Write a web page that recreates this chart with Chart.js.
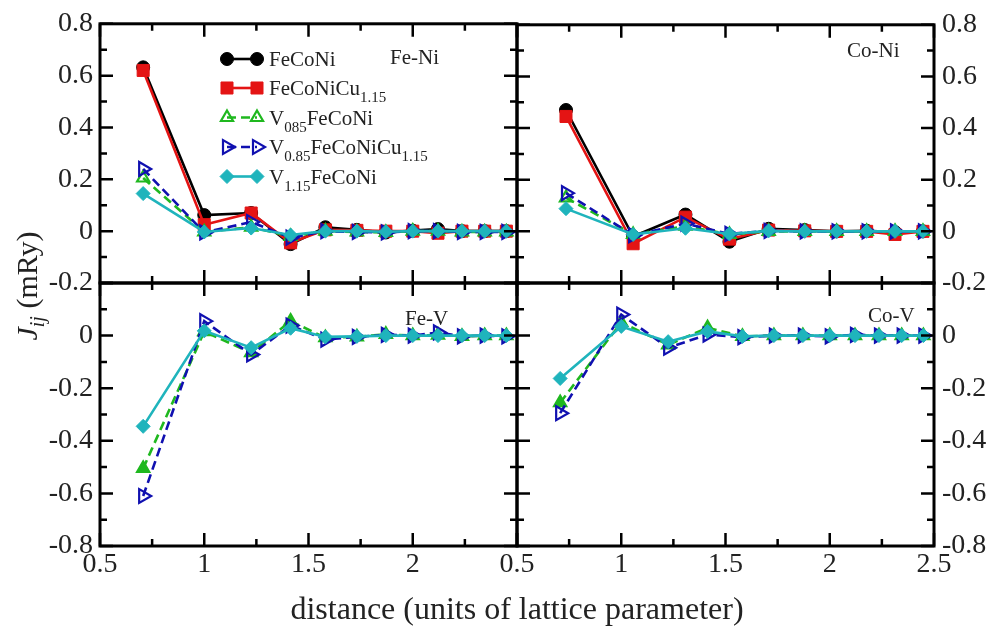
<!DOCTYPE html>
<html>
<head>
<meta charset="utf-8">
<script src="https://cdn.jsdelivr.net/npm/chart.js@4.4.0/dist/chart.umd.min.js"></script>
<style>
html,body{margin:0;padding:0;background:#fff;}
#wrap{position:relative;width:986px;height:626px;overflow:hidden;}
#wrap canvas{position:absolute;left:0;top:0;}
</style>
</head>
<body>
<div id="wrap">
<canvas id="cTL" width="986" height="626"></canvas>
<canvas id="cTR" width="986" height="626"></canvas>
<canvas id="cBL" width="986" height="626"></canvas>
<canvas id="cBR" width="986" height="626"></canvas>
</div>
<script>
// ---------------- data ----------------
const panelTitles = ['Fe-Ni', 'Co-Ni', 'Fe-V', 'Co-V'];
const seriesLabels = ['FeCoNi', 'FeCoNiCu1.15', 'V085FeCoNi', 'V0.85FeCoNiCu1.15', 'V1.15FeCoNi'];
// legend text pieces: [text, isSubscript]
const legendParts = [
  [['FeCoNi', 0]],
  [['FeCoNiCu', 0], ['1.15', 1]],
  [['V', 0], ['085', 1], ['FeCoNi', 0]],
  [['V', 0], ['0.85', 1], ['FeCoNiCu', 0], ['1.15', 1]],
  [['V', 0], ['1.15', 1], ['FeCoNi', 0]]
];
const xTitle = 'distance (units of lattice parameter)';

// neighbour distances (x)
const xFcc  = [0.707, 1.0, 1.225, 1.414, 1.581, 1.732, 1.871, 2.0, 2.121, 2.236, 2.345, 2.449];
const xCoNi = [0.735, 1.057, 1.308, 1.519, 1.707, 1.880, 2.033, 2.177, 2.313, 2.447];

// Fe-Ni
const feNi_FeCoNi   = [0.632, 0.062, 0.070, -0.050, 0.015, 0.005, -0.005, 0.002, 0.008, 0.0, 0.0, 0.0];
const feNi_Cu       = [0.620, 0.025, 0.070, -0.045, 0.005, 0.003, 0.0, 0.0, -0.008, 0.0, 0.0, 0.0];
const feNi_V085     = [0.205, -0.003, 0.015, -0.020, 0.0, -0.003, -0.005, 0.0, 0.0, -0.003, -0.003, -0.003];
const feNi_V085Cu   = [0.240, -0.005, 0.035, -0.025, 0.0, -0.003, -0.005, 0.0, 0.0, -0.003, -0.003, -0.003];
const feNi_V115     = [0.145, -0.003, 0.012, -0.015, 0.0, 0.0, -0.002, 0.0, 0.0, 0.0, 0.0, 0.0];
// Co-Ni
const coNi_FeCoNi   = [0.470, -0.020, 0.065, -0.040, 0.010, 0.005, 0.0, 0.002, -0.003, 0.0];
const coNi_Cu       = [0.445, -0.048, 0.055, -0.030, 0.005, 0.002, 0.0, 0.0, -0.012, 0.0];
const coNi_V085     = [0.130, -0.012, 0.020, -0.012, 0.0, 0.0, 0.0, 0.0, 0.0, 0.0];
const coNi_V085Cu   = [0.148, -0.015, 0.030, -0.010, 0.002, 0.0, 0.0, 0.0, 0.0, 0.0];
const coNi_V115     = [0.088, -0.012, 0.012, -0.010, 0.002, 0.0, 0.0, 0.0, 0.0, 0.0];
// Fe-V
const feV_V085      = [-0.505, 0.015, -0.065, 0.055, -0.008, -0.005, 0.005, 0.0, 0.002, -0.003, 0.0, 0.0];
const feV_V085Cu    = [-0.610, 0.055, -0.072, 0.038, -0.015, -0.005, 0.003, 0.0, 0.012, -0.003, 0.0, -0.003];
const feV_V115      = [-0.345, 0.018, -0.046, 0.028, -0.005, -0.003, 0.0, 0.0, 0.0, 0.0, 0.0, 0.0];
// Co-V
const coV_V085      = [-0.255, 0.050, -0.035, 0.030, -0.003, 0.0, 0.0, 0.0, 0.0, 0.0, 0.0, 0.0];
const coV_V085Cu    = [-0.295, 0.080, -0.046, 0.004, -0.006, 0.0, 0.0, -0.003, 0.003, 0.0, 0.0, 0.0];
const coV_V115      = [-0.163, 0.035, -0.023, 0.016, -0.003, 0.0, 0.0, 0.0, 0.0, 0.0, 0.0, 0.0];

// ticks
const xTicksBL = [0.5, 1, 1.5, 2];
const xTicksBR = [0.5, 1, 1.5, 2, 2.5];
const xMajor = [0.5, 1, 1.5, 2, 2.5];
const xMinor = [0.75, 1.25, 1.75, 2.25];
const yTicksTop = [0.8, 0.6, 0.4, 0.2, 0, -0.2];
const yTicksBottom = [0, -0.2, -0.4, -0.6, -0.8];
const yMajorTop = [0.8, 0.6, 0.4, 0.2, 0, -0.2];
const yMinorTop = [0.7, 0.5, 0.3, 0.1, -0.1];
const yMajorBottom = [0.2, 0, -0.2, -0.4, -0.6, -0.8];
const yMinorBottom = [0.1, -0.1, -0.3, -0.5, -0.7];

// ---------------- styles ----------------
const FONT = "'Liberation Serif','Times New Roman',serif";
Chart.defaults.font.family = FONT;
Chart.defaults.color = '#222';

const RED = '#e41414', GREEN = '#1fb81f', BLUE = '#1010b0', CYAN = '#1fb4bc';
const LW = 2.6;
const styles = [
  {borderColor:'#000', pointBackgroundColor:'#000', pointBorderColor:'#000', pointStyle:'circle', pointRadius:6.5, pointBorderWidth:1, borderWidth:LW, order:5},
  {borderColor:RED, pointBackgroundColor:RED, pointBorderColor:RED, pointStyle:'rect', pointRadius:8.5, pointBorderWidth:1, borderWidth:LW, order:4},
  {borderColor:GREEN, pointBackgroundColor:'rgba(0,0,0,0)', pointBorderColor:GREEN, pointStyle:'triangle', pointRadius:7, pointBorderWidth:2.2, borderWidth:LW, borderDash:[9,5], order:3},
  {borderColor:BLUE, pointBackgroundColor:'rgba(0,0,0,0)', pointBorderColor:BLUE, pointStyle:'triangle', pointRotation:90, pointRadius:8, pointBorderWidth:2.2, borderWidth:LW, borderDash:[9,5], order:2},
  {borderColor:CYAN, pointBackgroundColor:CYAN, pointBorderColor:CYAN, pointStyle:'rectRot', pointRadius:7, pointBorderWidth:1, borderWidth:LW, order:1}
];

function ds(idx, xs, ys, extra) {
  return Object.assign({label: seriesLabels[idx]}, styles[idx], {
    data: xs.map((x, i) => ({x: x, y: ys[i]})),
    tension: 0, fill: false, showLine: true, clip: false
  }, extra || {});
}

function drawMarker(ctx, st, x, y) {
  ctx.save();
  ctx.fillStyle = st.pointBackgroundColor;
  ctx.strokeStyle = st.pointBorderColor;
  ctx.lineWidth = st.pointBorderWidth;
  ctx.setLineDash([]);
  Chart.helpers.drawPoint(ctx, {pointStyle: st.pointStyle, radius: st.pointRadius, rotation: st.pointRotation || 0, borderWidth: st.pointBorderWidth}, x, y);
  ctx.restore();
}

function partsText(ctx, parts, x, y, size, subSize, subDrop) {
  let cx = x;
  parts.forEach(p => {
    const sub = p[1];
    ctx.font = (sub ? subSize : size) + 'px ' + FONT;
    ctx.fillText(p[0], cx, sub ? y + subDrop : y);
    cx += ctx.measureText(p[0]).width;
  });
}

function makeDeco(cfg) {
  return {
    id: 'deco',
    afterDatasetsDraw(chart) {
      const ctx = chart.ctx, a = chart.chartArea, x = chart.scales.x, y = chart.scales.y;
      ctx.save();
      // ticks inside, mirrored
      ctx.strokeStyle = '#000';
      ctx.lineWidth = 2.5;
      ctx.setLineDash([]);
      ctx.beginPath();
      const vt = (vals, len) => vals.forEach(v => {
        const p = x.getPixelForValue(v);
        ctx.moveTo(p, a.bottom); ctx.lineTo(p, a.bottom - len);
        ctx.moveTo(p, a.top); ctx.lineTo(p, a.top + len);
      });
      const ht = (vals, len) => vals.forEach(v => {
        const p = y.getPixelForValue(v);
        ctx.moveTo(a.left, p); ctx.lineTo(a.left + len, p);
        ctx.moveTo(a.right, p); ctx.lineTo(a.right - len, p);
      });
      vt(xMajor, 13); vt(xMinor, 7);
      ht(cfg.yMajor, 13); ht(cfg.yMinor, 7);
      ctx.stroke();
      ctx.lineWidth = 3;
      ctx.strokeRect(a.left, a.top, a.right - a.left, a.bottom - a.top);
      // panel title
      ctx.fillStyle = '#222';
      ctx.font = '21px ' + FONT;
      ctx.textBaseline = 'alphabetic';
      ctx.textAlign = 'left';
      ctx.fillText(cfg.title, cfg.titleX, cfg.titleY);
      if (cfg.legend) {
        const rows = [59, 88, 117.5, 147, 176.5];
        chart.data.datasets.forEach((d, i) => {
          const st = styles[i], yy = rows[i];
          ctx.save();
          ctx.strokeStyle = st.borderColor;
          ctx.lineWidth = st.borderWidth;
          ctx.setLineDash(st.borderDash || []);
          ctx.beginPath(); ctx.moveTo(227, yy); ctx.lineTo(257, yy); ctx.stroke();
          ctx.restore();
          drawMarker(ctx, st, 227, yy);
          drawMarker(ctx, st, 257, yy);
          ctx.fillStyle = '#222';
          partsText(ctx, legendParts[i], 269, yy + 7, 21, 15, 7);
        });
        // y axis title (rotated)
        ctx.save();
        ctx.translate(37, 286);
        ctx.rotate(-Math.PI / 2);
        ctx.fillStyle = '#222';
        ctx.font = 'italic 30px ' + FONT;
        const wJ = ctx.measureText('J').width;
        ctx.font = 'italic 20px ' + FONT;
        const wij = ctx.measureText('ij').width;
        ctx.font = '30px ' + FONT;
        const wR = ctx.measureText(' (mRy)').width;
        let sx = -(wJ + wij + wR) / 2;
        ctx.font = 'italic 30px ' + FONT; ctx.fillText('J', sx, 0); sx += wJ;
        ctx.font = 'italic 20px ' + FONT; ctx.fillText('ij', sx, 7); sx += wij;
        ctx.font = '30px ' + FONT; ctx.fillText(' (mRy)', sx, 0);
        ctx.restore();
      }
      if (cfg.xTitle) {
        ctx.fillStyle = '#222';
        ctx.font = '32px ' + FONT;
        ctx.textAlign = 'center';
        ctx.fillText(xTitle, 517, 619);
      }
      ctx.restore();
    }
  };
}

function panel(id, opt) {
  const left = opt.yPos === 'left';
  return new Chart(document.getElementById(id), {
    type: 'line',
    data: {datasets: opt.datasets},
    options: {
      responsive: false, animation: false, events: [],
      layout: {autoPadding: false, padding: opt.padding},
      plugins: {legend: {display: false}, tooltip: {enabled: false}},
      scales: {
        x: {
          type: 'linear', min: 0.5, max: 2.5, position: 'bottom', display: !!opt.xLabels,
          grid: {display: false, drawTicks: false}, border: {display: false},
          afterBuildTicks: s => { if (opt.xLabels) s.ticks = opt.xLabels.map(v => ({value: v})); },
          afterFit: s => { s.height = opt.xLabels ? 40 : 0; },
          ticks: {padding: 2, maxRotation: 0, minRotation: 0, autoSkip: false, color: '#222', font: {size: 28}, callback: v => String(v)}
        },
        y: {
          type: 'linear', min: opt.yMin, max: opt.yMax, position: opt.yPos,
          grid: {display: false, drawTicks: false}, border: {display: false},
          afterBuildTicks: s => { s.ticks = opt.yLabels.map(v => ({value: v})); },
          afterFit: s => { s.width = left ? 100 : 52; },
          ticks: {padding: left ? 7 : 8, autoSkip: false, color: '#222', font: {size: 28}, callback: v => String(v)}
        }
      }
    },
    plugins: [makeDeco(opt.deco)]
  });
}

const greenFilled = {pointBackgroundColor: GREEN};

panel('cTL', {
  datasets: [ds(0, xFcc, feNi_FeCoNi), ds(1, xFcc, feNi_Cu), ds(2, xFcc, feNi_V085), ds(3, xFcc, feNi_V085Cu), ds(4, xFcc, feNi_V115)],
  padding: {left: 0, top: 22, right: 469, bottom: 343},
  yPos: 'left', yMin: -0.2, yMax: 0.8, yLabels: yTicksTop,
  deco: {yMajor: yMajorTop, yMinor: yMinorTop, title: panelTitles[0], titleX: 390, titleY: 64, legend: true}
});
panel('cTR', {
  datasets: [ds(0, xCoNi, coNi_FeCoNi), ds(1, xCoNi, coNi_Cu), ds(2, xCoNi, coNi_V085), ds(3, xCoNi, coNi_V085Cu), ds(4, xCoNi, coNi_V115)],
  padding: {left: 517, top: 22, right: 0, bottom: 343},
  yPos: 'right', yMin: -0.2, yMax: 0.8, yLabels: yTicksTop,
  deco: {yMajor: yMajorTop, yMinor: yMinorTop, title: panelTitles[1], titleX: 847, titleY: 57}
});
panel('cBL', {
  datasets: [ds(2, xFcc, feV_V085, greenFilled), ds(3, xFcc, feV_V085Cu), ds(4, xFcc, feV_V115)],
  padding: {left: 0, top: 283, right: 469, bottom: 40},
  yPos: 'left', yMin: -0.8, yMax: 0.2, yLabels: yTicksBottom, xLabels: xTicksBL,
  deco: {yMajor: yMajorBottom, yMinor: yMinorBottom, title: panelTitles[2], titleX: 405, titleY: 325, xTitle: true}
});
panel('cBR', {
  datasets: [ds(2, xFcc, coV_V085, greenFilled), ds(3, xFcc, coV_V085Cu), ds(4, xFcc, coV_V115)],
  padding: {left: 517, top: 283, right: 0, bottom: 40},
  yPos: 'right', yMin: -0.8, yMax: 0.2, yLabels: yTicksBottom, xLabels: xTicksBR,
  deco: {yMajor: yMajorBottom, yMinor: yMinorBottom, title: panelTitles[3], titleX: 868, titleY: 322}
});
</script>
</body>
</html>
